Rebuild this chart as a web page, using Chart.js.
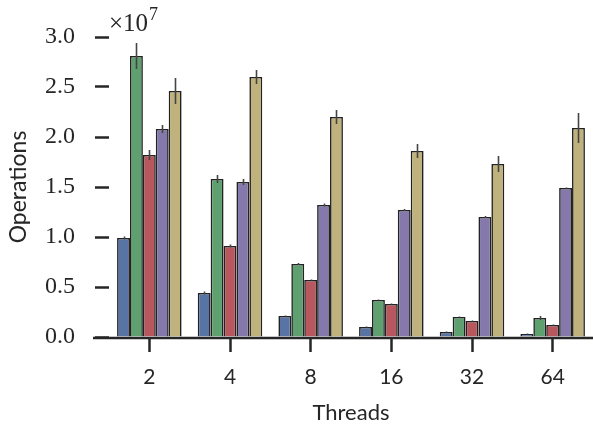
<!DOCTYPE html>
<html>
<head>
<meta charset="utf-8">
<script src="https://cdn.jsdelivr.net/npm/chart.js@4"></script>
<style>
  html, body { margin: 0; padding: 0; background: #fff; }
  #wrap { width: 593px; height: 428px; position: relative; }
</style>
</head>
<body>
<div id="wrap"><canvas id="opsChart"></canvas></div>
<script>
// values in units of 1e7 operations
const threads = ['2', '4', '8', '16', '32', '64'];
const blueVals   = [0.99, 0.44, 0.21, 0.10, 0.05, 0.03];
const greenVals  = [2.81, 1.58, 0.73, 0.37, 0.20, 0.19];
const redVals    = [1.82, 0.91, 0.57, 0.33, 0.16, 0.12];
const purpleVals = [2.08, 1.55, 1.32, 1.27, 1.20, 1.49];
const goldVals   = [2.46, 2.60, 2.20, 1.86, 1.73, 2.09];

const blueErr   = [0.015, 0.015, 0.005, 0.005, 0.005, 0.005];
const greenErr  = [0.13, 0.04, 0.01, 0.005, 0.005, 0.02];
const redErr    = [0.05, 0.015, 0.005, 0.005, 0.005, 0.005];
const purpleErr = [0.04, 0.03, 0.015, 0.01, 0.01, 0.005];
const goldErr   = [0.13, 0.07, 0.07, 0.07, 0.08, 0.15];

const yTicks = [0, 0.5, 1.0, 1.5, 2.0, 2.5, 3.0];

const ink = '#262626';

const series = [
    { vals: blueVals,   err: blueErr,   color: '#5874A4' },
    { vals: greenVals,  err: greenErr,  color: '#5EA070' },
    { vals: redVals,    err: redErr,    color: '#B8585E' },
    { vals: purpleVals, err: purpleErr, color: '#8479AA' },
    { vals: goldVals,   err: goldErr,   color: '#C0B27C' }
];

// error bars, bottom spine and the x10^7 offset label
const extras = {
    id: 'extras',
    afterDatasetsDraw(chart) {
        const ctx = chart.ctx;
        const y = chart.scales.y;
        ctx.save();
        ctx.strokeStyle = '#444';
        ctx.lineWidth = 1.6;
        series.forEach((s, i) => {
            const meta = chart.getDatasetMeta(i);
            meta.data.forEach((bar, j) => {
                const v = s.vals[j], e = s.err[j];
                ctx.beginPath();
                ctx.moveTo(Math.round(bar.x) + 0.5, y.getPixelForValue(v - e));
                ctx.lineTo(Math.round(bar.x) + 0.5, y.getPixelForValue(v + e));
                ctx.stroke();
            });
        });
        ctx.restore();
    },
    afterDraw(chart) {
        const ctx = chart.ctx;
        const area = chart.chartArea;
        ctx.save();
        ctx.strokeStyle = ink;
        ctx.lineWidth = 2.5;
        ctx.beginPath();
        ctx.moveTo(93, area.bottom + 1);
        ctx.lineTo(593, area.bottom + 1);
        ctx.stroke();

        ctx.fillStyle = ink;
        ctx.textBaseline = 'alphabetic';
        ctx.font = '25px "Liberation Serif"';
        ctx.fillText('\u00d710', 109, 31);
        const w = ctx.measureText('\u00d710').width;
        ctx.font = '18px "Liberation Serif"';
        ctx.fillText('7', 109 + w + 1, 20);
        ctx.restore();
    }
};

new Chart(document.getElementById('opsChart'), {
    type: 'bar',
    data: {
        labels: threads,
        datasets: series.map(s => ({
            data: s.vals,
            backgroundColor: s.color,
            borderColor: '#222',
            borderWidth: 1.6,
            borderSkipped: 'bottom'
        }))
    },
    options: {
        responsive: true,
        maintainAspectRatio: false,
        animation: false,
        layout: { padding: { top: 37, right: 0, bottom: 0, left: 0 } },
        plugins: {
            legend: { display: false },
            tooltip: { enabled: false }
        },
        datasets: {
            bar: { categoryPercentage: 0.8, barPercentage: 1.0 }
        },
        scales: {
            x: {
                afterFit(scale) { scale.height = 91; },
                grid: {
                    offset: false,
                    drawOnChartArea: false,
                    drawTicks: true,
                    tickLength: 15,
                    tickWidth: 2.5,
                    tickColor: ink
                },
                border: { display: false },
                ticks: {
                    color: ink,
                    padding: 13,
                    font: { family: 'Lato', size: 21 }
                },
                title: {
                    display: true,
                    text: 'Threads',
                    color: ink,
                    padding: { top: 4, bottom: 2 },
                    font: { family: 'Lato', size: 22 }
                }
            },
            y: {
                min: 0,
                max: 3.0,
                afterFit(scale) { scale.width = 109; },
                afterBuildTicks(scale) { scale.ticks = yTicks.map(v => ({ value: v })); },
                grid: {
                    drawOnChartArea: false,
                    drawTicks: true,
                    tickLength: 14,
                    tickWidth: 2.5,
                    tickColor: ink
                },
                border: { display: false },
                ticks: {
                    color: ink,
                    padding: 20,
                    font: { family: 'Liberation Serif', size: 24 },
                    callback: v => v.toFixed(1)
                },
                title: {
                    display: true,
                    text: 'Operations',
                    color: ink,
                    padding: { top: 5, bottom: 0 },
                    font: { family: 'Lato', size: 23 }
                }
            }
        }
    },
    plugins: [extras]
});
</script>
</body>
</html>
